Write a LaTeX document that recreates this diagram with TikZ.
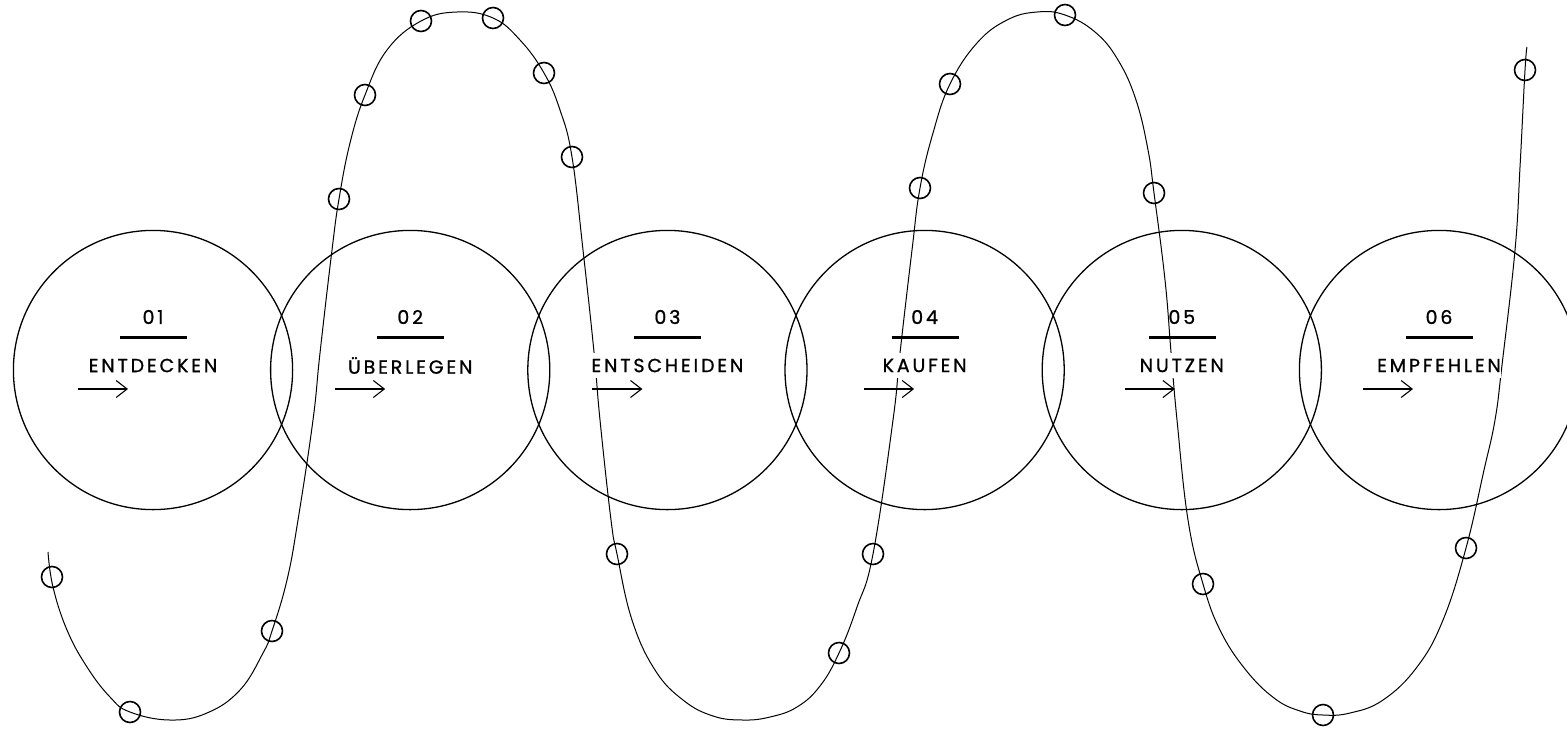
\documentclass[tikz,border=0pt]{standalone}
\usepackage{fontspec}
\setmainfont{Poppins}
\newfontfamily\stagefont[LetterSpace=15, FakeBold=1]{Poppins}
\usetikzlibrary{arrows.meta,positioning}

\begin{document}
\begin{tikzpicture}[x=0.5pt, y=-0.5pt,
	stage/.style={circle, draw, line width=0.65pt, minimum size=139.6pt, inner sep=0pt},
	wave/.style={line width=0.5pt},
	dot/.style={line width=0.8pt},
	stagenum/.style={font=\stagefont\fontsize{9.5}{11}\selectfont, inner sep=0pt},
	stagename/.style={font=\stagefont\fontsize{9.5}{11}\selectfont, fill=white, inner xsep=0pt, inner ysep=3pt},
	bar/.style={line width=1.5pt},
	go/.style={-{Straight Barb[length=5.5pt,width=8.5pt]}, line width=0.55pt}]
	\useasboundingbox (0,0) rectangle (1567,729);
	\clip (0,0) rectangle (1567,729);
	
	\foreach \i in {1,...,6}
		\node[stage] (s\i) at ({153+(\i-1)*257.2},370) {};
	
	% wave through the stages
	\draw[wave] plot[smooth, tension=0.7] coordinates {(48,552) (53,587) (67,630) (87,667) (110,697) (130,712) (170,720) (207,713) (240,690) (263,653) (272,631) (287,580) (298,520) (313,420) (320,353) (332,250) (339,199) (350,143) (365,95) (387,50) (421,21) (457,12) (493,18) (520,40) (544,73) (560,110) (572,157) (583,250) (594,352) (600,420) (611,520) (617,554) (632,620) (655,670) (683,700) (713,716) (743,720) (770,717) (797,707) (820,686) (839,653) (857,607) (873,554) (893,420) (900,353) (912,250) (920,188) (933,133) (950,84) (977,43) (1007,20) (1037,12) (1065,15) (1095,32) (1118,60) (1136,100) (1148,150) (1154,193) (1165,280) (1171,352) (1177,420) (1188,520) (1203,584) (1220,630) (1245,669) (1274,698) (1300,711) (1323,715) (1350,713) (1383,700) (1417,667) (1443,620) (1466,548) (1484,470) (1495,420) (1502,365) (1515,250) (1520,167) (1525,70) (1527,47)};
	\foreach \x/\y in {52/577, 130/712, 272/631, 339/199, 365/95, 421/21, 493/18, 544/73, 572/157, 617/554, 839/653, 873/554, 920/188, 950/84, 1065/15, 1154/193, 1203/584, 1323/715, 1466/548, 1525/70}
		\draw[dot] (\x,\y) circle (5.25pt);
	
	\foreach \i/\txt/\off in {1/ENTDECKEN/37.5, 2/ÜBERLEGEN/37.5, 3/ENTSCHEIDEN/37.5, 4/KAUFEN/30.25, 5/NUTZEN/28.5, 6/EMPFEHLEN/38}{
		\node[stagenum] (n\i) at ([yshift=26.5pt]s\i.center) {0\i};
		\draw[bar] ([xshift=-16.5pt, yshift=16.5pt]s\i.center) -- ([xshift=17pt, yshift=16.5pt]s\i.center);
		\node[stagename] (t\i) at ([yshift=2.25pt]s\i.center) {\txt};
		\coordinate (a\i) at ([xshift=-\off pt, yshift=-9.5pt]s\i.center);
		\draw[go] (a\i) -- ++(25pt,0);
	}
\end{tikzpicture}
\end{document}
